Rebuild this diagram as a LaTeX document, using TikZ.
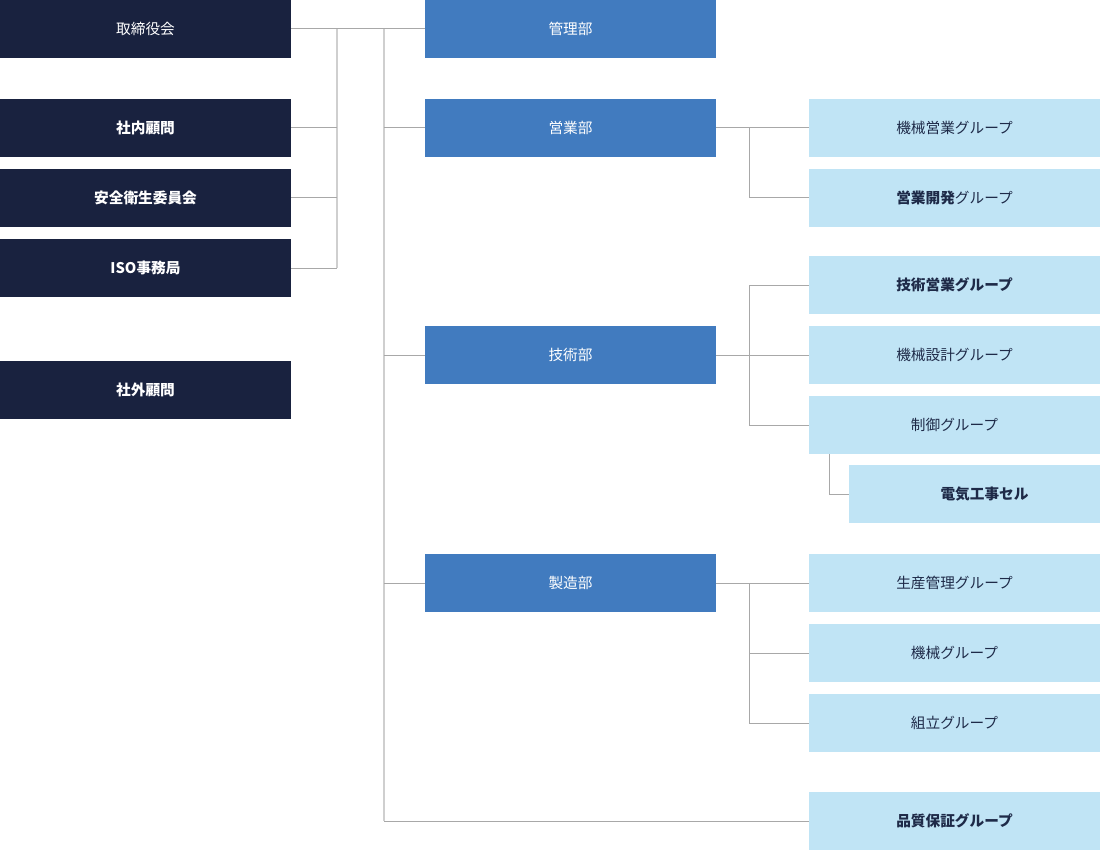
\documentclass[tikz,border=0pt]{standalone}
\usepackage{fontspec}
\setmainfont{Noto Sans CJK JP}
\definecolor{marinho}{HTML}{19223F}
\definecolor{azul}{HTML}{417BBF}
\definecolor{celeste}{HTML}{C0E4F5}
\definecolor{escuro}{HTML}{1E2A48}
\definecolor{cinza}{HTML}{A8A8A8}
\definecolor{cinzaclaro}{HTML}{CFCFCF}
\tikzset{
  caixa/.style={rectangle, inner sep=0pt, minimum width=218.25pt, minimum height=43.5pt, font=\fontsize{11}{13}\selectfont},
  diretoria/.style={caixa, fill=marinho, text=white},
  depto/.style={caixa, fill=azul, text=white},
  grupo/.style={caixa, fill=celeste, text=escuro},
  lig/.style={draw=cinza, line width=0.75pt},
  barra/.style={draw=cinzaclaro, line width=1.2pt}
}
\begin{document}
\begin{tikzpicture}[x=0.75pt, y=-0.75pt] %1 unidade = 1 pixel
\useasboundingbox (0,0) rectangle (1100,863);
	%Coluna da esquerda
\node[diretoria] (torishimari) at (145.5,29) {取締役会};
\node[diretoria] (shanai) at (145.5,128) {\bfseries 社内顧問};
\node[diretoria] (anzen) at (145.5,198) {\bfseries 安全衛生委員会};
\node[diretoria] (iso) at (145.5,268) {\bfseries ISO事務局};
\node[diretoria] (shagai) at (145.5,390) {\bfseries 社外顧問};
	%Departamentos
\node[depto] (kanri) at (570.5,29) {管理部};
\node[depto] (eigyo) at (570.5,128) {営業部};
\node[depto] (gijutsu) at (570.5,355) {技術部};
\node[depto] (seizo) at (570.5,583) {製造部};
	%Grupos
\node[grupo] (kikaieigyo) at (954.5,128) {機械営業グループ};
\node[grupo] (eigyokaihatsu) at (954.5,198) {\textbf{営業開発}グループ};
\node[grupo] (gijutsueigyo) at (954.5,285) {\bfseries 技術営業グループ};
\node[grupo] (kikaisekkei) at (954.5,355) {機械設計グループ};
\node[grupo] (seigyo) at (954.5,425) {制御グループ};
\node[grupo, minimum width=188.25pt] (denki) at (974.5,494) {\hspace*{15pt}\bfseries 電気工事セル};
\node[grupo] (seisan) at (954.5,583) {生産管理グループ};
\node[grupo] (kikai) at (954.5,653) {機械グループ};
\node[grupo] (kumitate) at (954.5,723) {組立グループ};
\node[grupo] (hinshitsu) at (954.5,821) {\bfseries 品質保証グループ};
	%Barras verticais
\coordinate (b1) at (337,29);
\coordinate (b2) at (384,29);
\coordinate (b3) at (749,128);
\coordinate (b4) at (829,454);
\draw[barra] (b1) -- (b1 |- iso.east);
\draw[barra] (b2) -- (b2 |- hinshitsu.west);
	%Ligacoes
\draw[lig] (torishimari.east) -- (kanri.west);
\draw[lig] (shanai.east) -- (shanai.east -| b1);
\draw[lig] (anzen.east) -- (anzen.east -| b1);
\draw[lig] (iso.east) -- (iso.east -| b1);
\draw[lig] (eigyo.west -| b2) -- (eigyo.west);
\draw[lig] (gijutsu.west -| b2) -- (gijutsu.west);
\draw[lig] (seizo.west -| b2) -- (seizo.west);
\draw[lig] (hinshitsu.west -| b2) -- (hinshitsu.west);
	%Sub-grupos
\draw[lig] (eigyo.east) -- (kikaieigyo.west);
\draw[lig] (kikaieigyo.west -| b3) |- (eigyokaihatsu.west);
\draw[lig] (gijutsu.east) -- (kikaisekkei.west);
\draw[lig] (gijutsueigyo.west) -| (b3 |- seigyo.west) -- (seigyo.west);
\draw[lig] (seizo.east) -- (seisan.west);
\draw[lig] (seisan.west -| b3) |- (kumitate.west);
\draw[lig] (kikai.west -| b3) -- (kikai.west);
\draw[lig] (b4) |- (denki.west);
\end{tikzpicture}
\end{document}
